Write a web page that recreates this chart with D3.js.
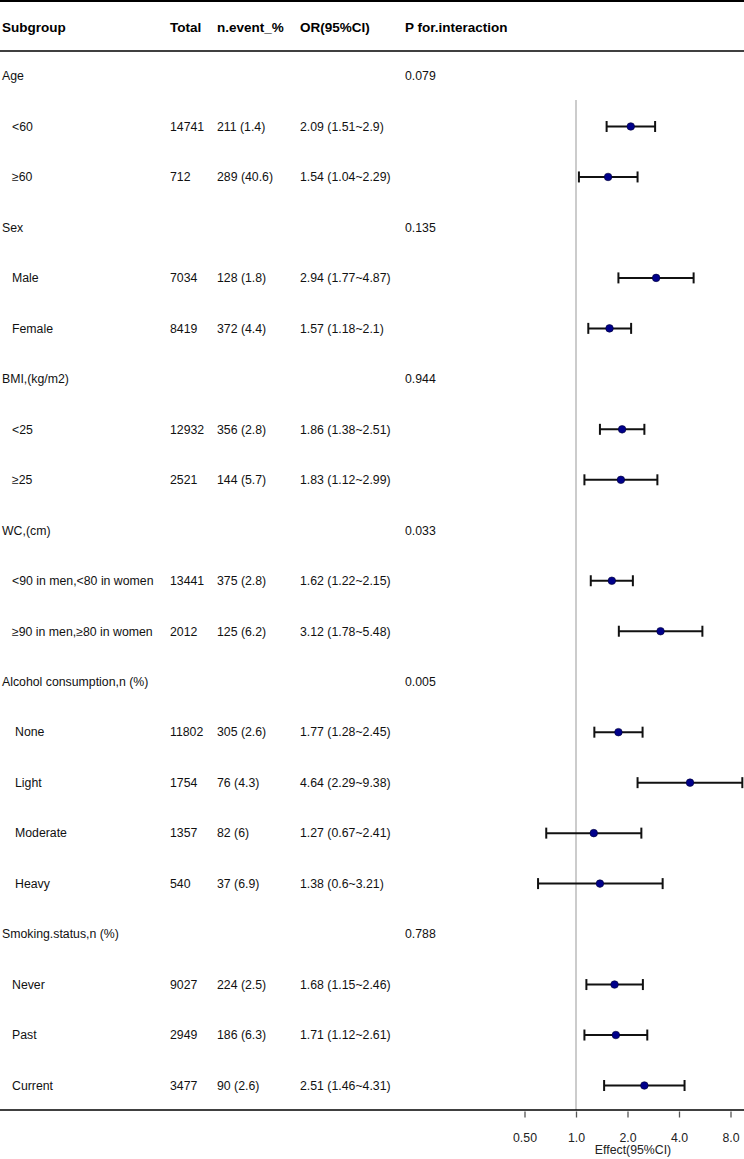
<!DOCTYPE html>
<html>
<head>
<meta charset="utf-8">
<script src="https://cdn.jsdelivr.net/npm/d3@7"></script>
<style>
html,body{margin:0;padding:0;background:#fff;}
svg{display:block;font-family:"Liberation Sans",Arial,sans-serif;}
</style>
</head>
<body>
<svg id="chart" width="744" height="1159"></svg>
<script>
const labels = ["Age","<60","≥60","Sex","Male","Female","BMI,(kg/m2)","<25","≥25","WC,(cm)",
  "<90 in men,<80 in women","≥90 in men,≥80 in women","Alcohol consumption,n (%)","None","Light","Moderate","Heavy",
  "Smoking.status,n (%)","Never","Past","Current"];
const indents = [0,1,1,0,1,1,0,1,1,0,1,1,0,2,2,2,2,0,1,1,1];
const totals = ["","14741","712","","7034","8419","","12932","2521","","13441","2012","","11802","1754","1357","540","","9027","2949","3477"];
const events = ["","211 (1.4)","289 (40.6)","","128 (1.8)","372 (4.4)","","356 (2.8)","144 (5.7)","","375 (2.8)","125 (6.2)","","305 (2.6)","76 (4.3)","82 (6)","37 (6.9)","","224 (2.5)","186 (6.3)","90 (2.6)"];
const orText = ["","2.09 (1.51~2.9)","1.54 (1.04~2.29)","","2.94 (1.77~4.87)","1.57 (1.18~2.1)","","1.86 (1.38~2.51)","1.83 (1.12~2.99)","",
  "1.62 (1.22~2.15)","3.12 (1.78~5.48)","","1.77 (1.28~2.45)","4.64 (2.29~9.38)","1.27 (0.67~2.41)","1.38 (0.6~3.21)","","1.68 (1.15~2.46)","1.71 (1.12~2.61)","2.51 (1.46~4.31)"];
const orEst = [null,2.09,1.54,null,2.94,1.57,null,1.86,1.83,null,1.62,3.12,null,1.77,4.64,1.27,1.38,null,1.68,1.71,2.51];
const orLow = [null,1.51,1.04,null,1.77,1.18,null,1.38,1.12,null,1.22,1.78,null,1.28,2.29,0.67,0.6,null,1.15,1.12,1.46];
const orHigh = [null,2.9,2.29,null,4.87,2.1,null,2.51,2.99,null,2.15,5.48,null,2.45,9.38,2.41,3.21,null,2.46,2.61,4.31];
const pInter = ["0.079","","","0.135","","","0.944","","","0.033","","","0.005","","","","","0.788","","",""];
const headers = ["Subgroup","Total","n.event_%","OR(95%CI)","P for.interaction"];
const xTicks = [0.5,1,2,4,8];
const xTickLabels = ["0.50","1.0","2.0","4.0","8.0"];

const svg = d3.select("#chart");
const W = 744;
const colX = [2,170,217,300,405];
const indentX = [2,12,15];

const y = d3.scaleLinear().domain([0, labels.length-1]).range([76, 1085.5]);
const x = d3.scaleLog().base(2).domain([0.5, 8]).range([524.5, 730.5]);

// lines
svg.append("line").attr("x1",0).attr("x2",W).attr("y1",1).attr("y2",1).attr("stroke","#000").attr("stroke-width",2.2);
svg.append("line").attr("x1",0).attr("x2",W).attr("y1",51).attr("y2",51).attr("stroke","#000").attr("stroke-width",1.5);

// headers
svg.selectAll("text.hdr").data(headers).enter().append("text")
  .attr("class","hdr").attr("x",(d,i)=>colX[i]).attr("y",27).attr("dy","0.35em")
  .attr("font-size",13.5).attr("font-weight","bold").attr("fill","#000").text(d=>d);

const rows = svg.append("g").selectAll("g").data(labels).enter().append("g")
  .attr("transform",(d,i)=>`translate(0,${y(i)})`);
const txt = (g, xx, t) => g.append("text").attr("x",xx).attr("dy","0.35em").attr("font-size",12.3).attr("fill","#111").text(t);
rows.each(function(d,i){
  const g = d3.select(this);
  txt(g, indentX[indents[i]], d);
  if (totals[i]) txt(g, colX[1], totals[i]);
  if (events[i]) txt(g, colX[2], events[i]);
  if (orText[i]) txt(g, colX[3], orText[i]);
  if (pInter[i]) txt(g, colX[4], pInter[i]);
});

// reference line
svg.append("line").attr("x1",x(1)).attr("x2",x(1)).attr("y1",100).attr("y2",1110)
  .attr("stroke","#999").attr("stroke-width",1);

// CIs
const idx = d3.range(labels.length).filter(i=>orEst[i]!=null);
const ci = svg.append("g");
const clampX = v => Math.min(x(v), 743);
idx.forEach(i=>{
  const yy = y(i);
  const x1 = clampX(orLow[i]), x2 = clampX(orHigh[i]);
  ci.append("line").attr("x1",x1).attr("x2",x2).attr("y1",yy).attr("y2",yy).attr("stroke","#111").attr("stroke-width",2);
  [x1,x2].forEach(xx=>ci.append("line").attr("x1",xx).attr("x2",xx).attr("y1",yy-5.5).attr("y2",yy+5.5).attr("stroke","#111").attr("stroke-width",2));
  ci.append("circle").attr("cx",x(orEst[i])).attr("cy",yy).attr("r",3.8).attr("fill","#00008B").attr("stroke","#000033").attr("stroke-width",0.6);
});

// bottom axis line
svg.append("line").attr("x1",0).attr("x2",W).attr("y1",1110).attr("y2",1110).attr("stroke","#000").attr("stroke-width",1.5);
const axis = d3.axisBottom(x).tickValues(xTicks).tickFormat((d,i)=>xTickLabels[i]).tickSize(6).tickPadding(16);
const ag = svg.append("g").attr("transform","translate(0,1111.5)").call(axis);
ag.select(".domain").remove();
ag.selectAll(".tick line").attr("stroke","#555").attr("stroke-width",1.3);
ag.selectAll(".tick text").attr("font-size",12.3).attr("fill","#222").attr("font-family","Liberation Sans, Arial, sans-serif");
svg.append("text").attr("x",633).attr("y",1150).attr("dy","0.35em").attr("text-anchor","middle")
  .attr("font-size",12.3).attr("fill","#222").text("Effect(95%CI)");
</script>
</body>
</html>
